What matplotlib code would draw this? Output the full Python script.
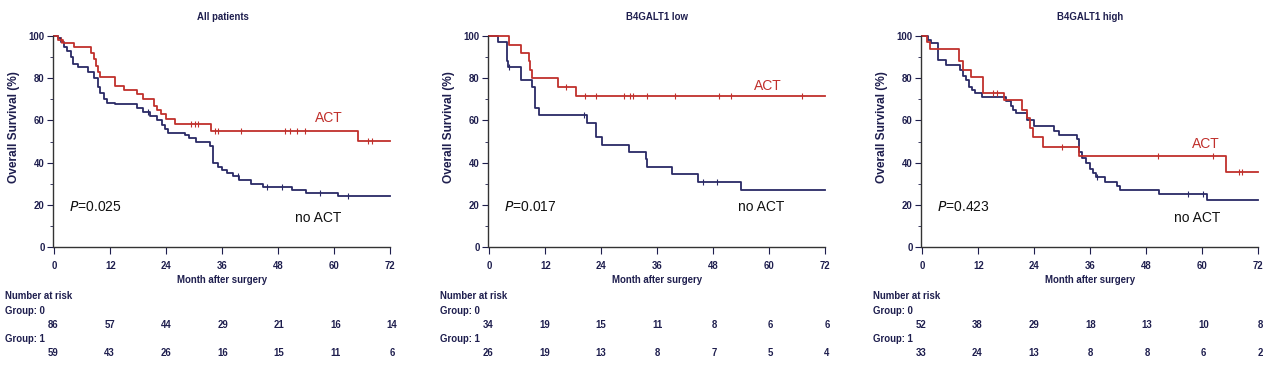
import numpy as np
import matplotlib.pyplot as plt

plt.rcParams['font.family'] = ['Liberation Sans', 'DejaVu Sans']

titles = ['All patients', 'B4GALT1 low', 'B4GALT1 high']
p_values = ['0.025', '0.017', '0.423']
months = [0, 12, 24, 36, 48, 60, 72]

# ACT (red) curves: step times (months) and survival (%) after each step
act_t = [
    [0.7, 1.8, 4.3, 7.8, 8.5, 8.9, 9.4, 9.9, 13.1, 14.9, 17.7, 19.1, 21.4, 22.1, 23.0, 23.9, 26.0, 33.7, 65.1],
    [4.3, 6.8, 8.5, 8.7, 9.2, 14.8, 18.7],
    [0.9, 1.6, 7.8, 8.7, 10.4, 13.1, 17.5, 21.4, 22.5, 23.2, 23.8, 25.9, 33.7, 65.1],
]
act_s = [
    [98, 96.5, 94.8, 92, 89, 86, 83, 80.5, 76.5, 74.5, 72.5, 70, 67, 65, 63, 60.5, 58.5, 55, 50.3],
    [96, 92, 88, 84, 80, 76, 71.5],
    [97, 94, 88, 84, 80.5, 73, 69.5, 65, 61, 56.5, 52, 47.5, 43, 35.5],
]
act_cens = [
    [1.5, 29.4, 30.1, 30.9, 34.4, 35.1, 40.1, 49.6, 50.7, 52.1, 53.8, 67.4, 68.1],
    [16.4, 20.6, 22.8, 28.8, 30.2, 30.8, 33.9, 39.8, 49.4, 51.9, 67.2],
    [15.1, 16.1, 30.0, 50.6, 62.3, 68.0, 68.7],
]

# no ACT (blue) curves
noact_t = [
    [0.7, 1.4, 2.1, 2.8, 3.5, 4.1, 5.0, 7.2, 8.5, 9.4, 9.9, 10.6, 11.3, 13.1, 17.7, 19.1, 20.6, 22.1, 23.2,
     23.8, 24.5, 28.0, 28.9, 30.4, 33.5, 34.0, 35.1, 36.0, 37.0, 38.3, 39.6, 42.2, 44.7, 51.1, 54.0, 61.0],
    [1.8, 3.8, 4.1, 6.8, 9.2, 9.7, 10.7, 21.0, 22.8, 24.2, 29.9, 33.6, 33.9, 39.3, 44.7, 54.1],
    [1.2, 1.9, 3.3, 5.1, 8.1, 8.8, 9.4, 10.1, 10.7, 11.3, 12.9, 17.9, 19.0, 19.5, 20.0, 22.5, 23.9, 28.2,
     29.3, 33.3, 33.7, 34.2, 35.2, 35.9, 36.6, 37.3, 39.2, 41.7, 42.4, 50.9, 61.2],
]
noact_s = [
    [99, 97, 95, 93, 90, 87, 85.5, 83, 80, 76, 73, 70, 68.5, 68, 66, 64, 62, 60, 58,
     56, 54, 53, 51.5, 50, 48, 40, 38, 36.5, 35, 33.5, 32, 30, 28.5, 27, 25.7, 24],
    [97, 88, 85.5, 79, 76, 66, 62.5, 59, 52, 48.5, 45, 41.5, 38, 34.5, 31, 27],
    [98, 96.5, 88.5, 86.5, 84, 81, 79, 76, 74.5, 73, 71, 69, 67, 65, 63.5, 60, 57.5, 55,
     53, 51, 45, 42, 40, 37, 35, 33, 31, 29, 27, 25, 22.5],
]
noact_cens = [
    [20.2, 39.4, 45.7, 48.9, 57.1, 63.0],
    [4.3, 20.4, 45.9, 48.9],
    [37.4, 57.0, 60.2],
]

# numbers at risk
risk_g0 = [
    [86, 57, 44, 29, 21, 16, 14],
    [34, 19, 15, 11, 8, 6, 6],
    [52, 38, 29, 18, 13, 10, 8],
]
risk_g1 = [
    [59, 43, 26, 16, 15, 11, 6],
    [26, 19, 13, 8, 7, 5, 4],
    [33, 24, 13, 8, 8, 6, 2],
]

# label positions (month, %)
act_lab = [(58.9, 61), (59.9, 76.5), (60.9, 49)]
noact_lab = [(56.7, 13.6), (58.3, 19), (59.1, 13.6)]

RED = '#c0302c'
BLUE = '#2a2a66'
TXT = '#1e1e4e'
FS = 6.9

fig = plt.figure(figsize=(12.8, 3.67), dpi=100)
lefts = [53, 488, 921]
width = 339


def draw_curve(ax, t, s, cens, color):
    tt = np.array([0] + t + [72])
    ss = np.array([100] + s + [s[-1]])
    ax.step(tt, ss, where='post', color=color, lw=1.3)
    c = np.array(cens)
    idx = np.searchsorted(tt, c, side='right') - 1
    ax.plot(c, ss[idx], ls='none', marker='|', ms=5, mew=0.8, color=color)


for i in range(3):
    ax = fig.add_axes([lefts[i] / 1280, 1 - 247 / 367, width / 1280, (247 - 34) / 367])
    draw_curve(ax, noact_t[i], noact_s[i], noact_cens[i], BLUE)
    draw_curve(ax, act_t[i], act_s[i], act_cens[i], RED)

    ax.set_xlim(-0.3, 72.5)
    ax.set_ylim(0, 101)
    ax.spines['top'].set_visible(False)
    ax.spines['right'].set_visible(False)
    ax.spines['left'].set_bounds(0, 100)
    ax.spines['bottom'].set_bounds(0, 72)
    for sp in ['left', 'bottom']:
        ax.spines[sp].set_color('#333333')
        ax.spines[sp].set_linewidth(1.0)
    ax.set_xticks(months)
    ax.set_yticks([0, 20, 40, 60, 80, 100])
    ax.set_yticks(np.arange(10, 100, 20), minor=True)
    ax.tick_params(axis='x', direction='out', length=5, pad=5, labelsize=FS, colors=TXT)
    ax.tick_params(axis='y', which='major', direction='out', length=4, pad=2, labelsize=FS, colors=TXT)
    ax.tick_params(axis='y', which='minor', direction='out', length=2, colors=TXT)
    for lbl in ax.get_xticklabels() + ax.get_yticklabels():
        lbl.set_fontweight('bold')
    ax.set_xlabel('Month after surgery', fontsize=FS, color=TXT, fontweight='bold', labelpad=3)
    ax.set_ylabel('Overall Survival (%)', fontsize=8.6, color=TXT, fontweight='bold')
    ax.yaxis.set_label_coords(-0.098, 0.565)
    ax.set_title(titles[i], fontsize=FS, color=TXT, fontweight='bold', pad=10)

    ax.text(act_lab[i][0], act_lab[i][1], 'ACT', color=RED, fontsize=10, ha='center', va='center')
    ax.text(noact_lab[i][0], noact_lab[i][1], 'no ACT', color='#111111', fontsize=10, ha='center', va='center')
    ax.text(3.2, 18.8, '$\\mathit{P}$=' + p_values[i], color='#111111', fontsize=10, ha='left', va='center',
            math_fontfamily='dejavusans')

    # risk table
    x0 = (lefts[i] - 48) / 1280
    fig.text(x0, 1 - 296 / 367, 'Number at risk', fontsize=FS, color=TXT, fontweight='bold', va='center')
    fig.text(x0, 1 - 311 / 367, 'Group: 0', fontsize=FS, color=TXT, fontweight='bold', va='center')
    fig.text(x0, 1 - 339 / 367, 'Group: 1', fontsize=FS, color=TXT, fontweight='bold', va='center')
    for m, n0, n1 in zip(months, risk_g0[i], risk_g1[i]):
        xf = (lefts[i] + m / 72 * width) / 1280
        fig.text(xf, 1 - 325 / 367, str(n0), fontsize=FS, color=TXT, fontweight='bold', ha='center', va='center')
        fig.text(xf, 1 - 353 / 367, str(n1), fontsize=FS, color=TXT, fontweight='bold', ha='center', va='center')

fig.savefig('out.png', dpi=100)
